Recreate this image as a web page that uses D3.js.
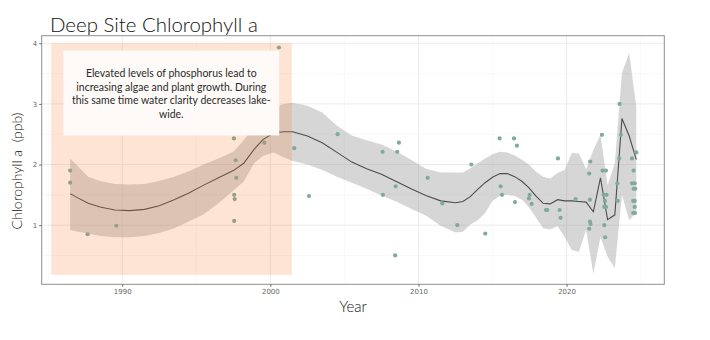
<!DOCTYPE html>
<html>
<head>
<meta charset="utf-8">
<script src="https://cdn.jsdelivr.net/npm/d3@7"></script>
<style>
  html, body { margin: 0; padding: 0; background: #ffffff; }
  svg { display: block; }
</style>
</head>
<body>
<svg id="chart" width="710" height="340"></svg>
<script>
// ---------------- DATA ----------------
const titleText = "Deep Site Chlorophyll a";
const xTitle = "Year";
const yTitle = "Chlorophyll a  (ppb)";
const xTicks = [1990, 2000, 2010, 2020];
const xMinor = [1985, 1995, 2005, 2015, 2025];
const yTicks = [1, 2, 3, 4];
const yMinor = [0.5, 1.5, 2.5, 3.5];

const pointYears = [1986.48, 1986.48, 1987.66, 1989.6, 1997.54, 1997.66, 1997.7, 1997.56, 1997.59, 1997.56,
  1999.59, 2000.58, 2001.61, 2002.61, 2004.54, 2007.58, 2007.6, 2008.57, 2008.68, 2008.46,
  2008.43, 2010.62, 2011.61, 2012.62, 2013.57, 2014.51, 2015.48, 2016.45, 2016.65, 2015.55,
  2015.64, 2016.52, 2017.51, 2017.46, 2017.64, 2018.61, 2018.7, 2019.42, 2019.53, 2019.6,
  2020.61, 2021.6, 2021.53, 2021.58, 2021.58, 2021.62, 2021.53, 2022.39, 2022.43, 2022.66,
  2022.5, 2022.7, 2022.59, 2022.55, 2022.66, 2022.55, 2022.61, 2023.58, 2023.67, 2023.56,
  2023.43, 2023.45, 2024.71, 2024.42, 2024.53, 2024.42, 2024.6, 2024.53, 2024.64, 2024.5,
  2024.6, 2024.6, 2024.5, 2024.62];
const pointChla = [1.90, 1.70, 0.85, 0.99, 2.43, 2.07, 1.78, 1.50, 1.43, 1.07,
  2.36, 3.93, 2.27, 1.48, 2.50, 2.21, 1.50, 2.21, 2.36, 1.64,
  0.50, 1.78, 1.36, 1.00, 2.00, 0.86, 2.43, 2.43, 2.31, 1.64,
  1.50, 1.38, 1.50, 1.44, 1.35, 1.25, 1.25, 2.10, 1.25, 1.12,
  1.43, 2.05, 1.85, 1.42, 1.06, 1.02, 0.94, 2.49, 1.90, 1.90,
  1.50, 1.50, 1.40, 1.30, 1.30, 1.00, 0.80, 3.00, 2.49, 2.10,
  1.69, 1.40, 2.20, 2.10, 1.90, 1.69, 1.69, 1.60, 1.60, 1.40,
  1.40, 1.30, 1.20, 1.20];

const smoothYears = [1986.48, 1987.0, 1987.7, 1988.5, 1989.5, 1990.5, 1991.5, 1992.5, 1993.5, 1994.5,
  1995.5, 1996.5, 1997.5, 1998.2, 1998.9, 1999.5, 2000.2, 2000.9, 2001.5, 2002.5,
  2003.5, 2004.5, 2005.5, 2006.5, 2007.5, 2008.5, 2009.5, 2010.5, 2011.5, 2012.5,
  2013.0, 2013.5, 2014.0, 2014.5, 2015.0, 2015.5, 2016.0, 2016.5, 2017.0, 2017.45,
  2017.94, 2018.42, 2018.9, 2019.39, 2019.87, 2020.35, 2020.84, 2021.32, 2021.81, 2022.29,
  2022.77, 2023.26, 2023.74, 2024.23, 2024.71];
const smoothFit = [1.52, 1.45, 1.36, 1.30, 1.25, 1.24, 1.26, 1.32, 1.42, 1.53,
  1.66, 1.78, 1.90, 2.02, 2.25, 2.41, 2.52, 2.54, 2.54, 2.47,
  2.36, 2.20, 2.04, 1.93, 1.84, 1.72, 1.60, 1.49, 1.40, 1.37,
  1.39, 1.47, 1.59, 1.70, 1.79, 1.85, 1.85, 1.80, 1.72, 1.62,
  1.48, 1.36, 1.35, 1.42, 1.40, 1.40, 1.39, 1.38, 1.22, 1.78,
  1.09, 1.17, 2.76, 2.47, 2.08];
const smoothLow = [0.92, 0.89, 0.86, 0.82, 0.80, 0.80, 0.82, 0.87, 0.95, 1.06,
  1.18, 1.36, 1.57, 1.72, 2.02, 2.14, 2.20, 2.12, 2.06, 2.00,
  1.91, 1.80, 1.70, 1.60, 1.49, 1.39, 1.27, 1.16, 0.99, 0.88,
  0.89, 1.01, 1.08, 1.20, 1.40, 1.48, 1.50, 1.48, 1.42, 1.30,
  1.12, 0.95, 0.93, 0.98, 0.81, 0.59, 0.56, 0.92, 0.20, 0.80,
  0.48, 0.29, 1.50, 1.08, 1.21];
const smoothHigh = [2.10, 1.97, 1.80, 1.73, 1.68, 1.67, 1.68, 1.73, 1.80, 1.89,
  2.00, 2.10, 2.21, 2.40, 2.62, 2.78, 2.93, 3.00, 3.02, 2.97,
  2.86, 2.64, 2.48, 2.40, 2.33, 2.22, 2.08, 1.93, 1.87, 1.87,
  1.87, 1.94, 2.02, 2.10, 2.17, 2.21, 2.20, 2.15, 2.08, 2.00,
  1.88, 1.80, 1.77, 1.86, 1.91, 2.19, 2.18, 1.92, 2.24, 2.49,
  1.66, 2.02, 3.51, 3.84, 2.95];

// highlighted period and annotation
const periodRange = [1985.2, 2001.45];   // years
const periodValues = [0.18, 4.0];         // ppb
const noteBoxYears = [1986.02, 2000.6];
const noteBoxValues = [2.48, 3.88];
const noteLines = ["Elevated levels of phosphorus lead to",
  "increasing algae and plant growth. During",
  "this same time water clarity decreases lake-",
  "wide."];

// ---------------- LAYOUT ----------------
const svg = d3.select("#chart");
const panel = { left: 41.7, right: 664.3, top: 35.7, bottom: 284.3 };
const x = d3.scaleLinear().domain([1984.56, 2026.6]).range([panel.left, panel.right]);
const y = d3.scaleLinear().domain([0.024, 4.125]).range([panel.bottom, panel.top]);
const textFont = "Lato, 'Noto Sans', sans-serif";

const g = svg.append("g");

// grid
g.selectAll(".xminor").data(xMinor).join("line")
  .attr("x1", d => x(d)).attr("x2", d => x(d))
  .attr("y1", panel.top).attr("y2", panel.bottom)
  .attr("stroke", "#f4f4f4").attr("stroke-width", 0.6);
g.selectAll(".yminor").data(yMinor).join("line")
  .attr("y1", d => y(d)).attr("y2", d => y(d))
  .attr("x1", panel.left).attr("x2", panel.right)
  .attr("stroke", "#f4f4f4").attr("stroke-width", 0.6);
g.selectAll(".xmajor").data(xTicks).join("line")
  .attr("x1", d => x(d)).attr("x2", d => x(d))
  .attr("y1", panel.top).attr("y2", panel.bottom)
  .attr("stroke", "#ebebeb").attr("stroke-width", 1);
g.selectAll(".ymajor").data(yTicks).join("line")
  .attr("y1", d => y(d)).attr("y2", d => y(d))
  .attr("x1", panel.left).attr("x2", panel.right)
  .attr("stroke", "#ebebeb").attr("stroke-width", 1);

// smooth ribbon + line
const smooth = smoothYears.map((yr, i) => ({ yr, fit: smoothFit[i], lo: smoothLow[i], hi: smoothHigh[i] }));
g.append("path").datum(smooth)
  .attr("d", d3.area().x(d => x(d.yr)).y0(d => y(d.lo)).y1(d => y(d.hi)))
  .attr("fill", "#999999").attr("fill-opacity", 0.4);
g.append("path").datum(smooth)
  .attr("d", d3.line().x(d => x(d.yr)).y(d => y(d.fit)))
  .attr("fill", "none").attr("stroke", "#4d4d4d").attr("stroke-width", 1.1);

// points
const pts = pointYears.map((yr, i) => ({ yr, v: pointChla[i] }));
g.selectAll(".pt").data(pts).join("circle")
  .attr("cx", d => x(d.yr)).attr("cy", d => y(d.v)).attr("r", 2.1)
  .attr("fill", "#80aa9e");

// highlighted period (semi-transparent orange on top)
g.append("rect")
  .attr("x", x(periodRange[0])).attr("width", x(periodRange[1]) - x(periodRange[0]))
  .attr("y", y(periodValues[1])).attr("height", y(periodValues[0]) - y(periodValues[1]))
  .attr("fill", "#f57828").attr("fill-opacity", 0.2);

// note box
g.append("rect")
  .attr("x", x(noteBoxYears[0])).attr("width", x(noteBoxYears[1]) - x(noteBoxYears[0]))
  .attr("y", y(noteBoxValues[1])).attr("height", y(noteBoxValues[0]) - y(noteBoxValues[1]))
  .attr("fill", "#fefaf8");
const noteCx = (x(noteBoxYears[0]) + x(noteBoxYears[1])) / 2;
const noteTexts = g.selectAll(".note").data(noteLines).join("text")
  .attr("x", noteCx).attr("y", (d, i) => 77 + i * 13.7)
  .attr("text-anchor", "middle")
  .attr("font-family", textFont).attr("font-weight", 400).attr("font-size", 11)
  .attr("fill", "#2a2a2a")
  .text(d => d);
{
  const w = noteTexts.nodes()[2].getComputedTextLength();
  noteTexts.attr("font-size", 11 * 199 / w);
}

// panel border
g.append("rect")
  .attr("x", panel.left).attr("y", panel.top)
  .attr("width", panel.right - panel.left).attr("height", panel.bottom - panel.top)
  .attr("fill", "none").attr("stroke", "#8f8f8f").attr("stroke-width", 1);

// axes
const xAxis = d3.axisBottom(x).tickValues(xTicks).tickFormat(d3.format("d")).tickSize(2.5).tickPadding(2);
const yAxis = d3.axisLeft(y).tickValues(yTicks).tickFormat(d3.format("d")).tickSize(2.5).tickPadding(2);
const xa = svg.append("g").attr("transform", `translate(0,${panel.bottom})`).call(xAxis);
const ya = svg.append("g").attr("transform", `translate(${panel.left},0)`).call(yAxis);
[xa, ya].forEach(a => {
  a.select(".domain").remove();
  a.selectAll(".tick line").attr("stroke", "#666666");
  a.selectAll(".tick text").attr("fill", "#666666").attr("font-size", 7)
    .attr("font-family", "'DejaVu Sans', sans-serif");
});

// titles
const title = svg.append("text")
  .attr("x", 50).attr("y", 31.7)
  .attr("font-family", textFont).attr("font-weight", 300).attr("font-size", 19)
  .attr("fill", "#111111").text(titleText);
{
  const w = title.node().getComputedTextLength();
  title.attr("font-size", 19 * 208 / w);
}
svg.append("text")
  .attr("x", (panel.left + panel.right) / 2).attr("y", 312)
  .attr("text-anchor", "middle")
  .attr("font-family", textFont).attr("font-weight", 300).attr("font-size", 15)
  .attr("fill", "#111111").text(xTitle);
const yt = svg.append("text")
  .attr("transform", `translate(22,171) rotate(-90)`)
  .attr("text-anchor", "middle")
  .attr("font-family", textFont).attr("font-weight", 300).attr("font-size", 15)
  .attr("fill", "#111111").attr("xml:space", "preserve").style("white-space", "pre")
  .text(yTitle);
{
  const w = yt.node().getComputedTextLength();
  yt.attr("font-size", 15 * 117 / w);
}
</script>
</body>
</html>
